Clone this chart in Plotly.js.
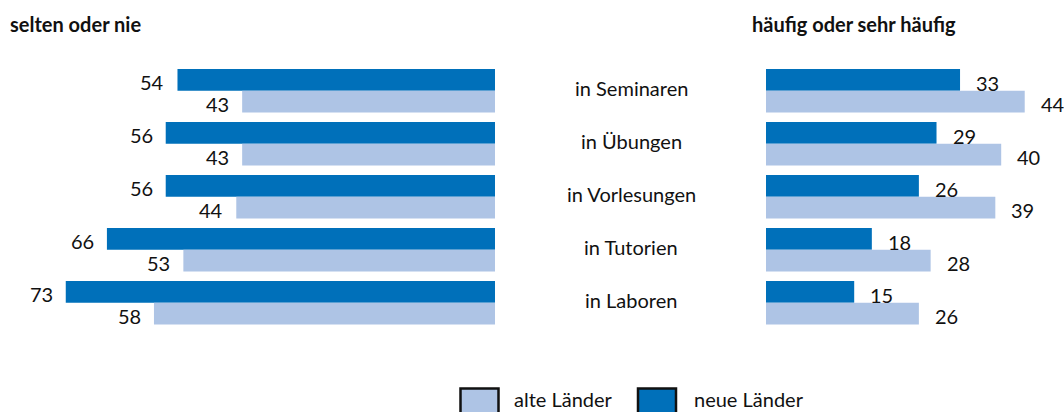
<!DOCTYPE html>
<html>
<head>
<meta charset="utf-8">
<script src="https://cdn.plot.ly/plotly-3.0.1.min.js"></script>
<style>html,body{margin:0;padding:0;background:#fff;}#chart{width:1064px;height:412px;}</style>
</head>
<body>
<div id="chart"></div>
<script>
const categories = ['in Seminaren', 'in Übungen', 'in Vorlesungen', 'in Tutorien', 'in Laboren'];
const seltenNeue = [54, 56, 56, 66, 73];
const seltenAlte = [43, 43, 44, 53, 58];
const haeufigNeue = [33, 29, 26, 18, 15];
const haeufigAlte = [44, 40, 39, 28, 26];
const seriesNames = ['alte Länder', 'neue Länder'];
const panelTitles = ['selten oder nie', 'häufig oder sehr häufig'];

const colAlte = '#AEC4E5';
const colNeue = '#0070BA';
const FONT = 'Lato, "Open Sans", sans-serif';
const TXT = '#111111';
const FS = 20;

function barTrace(x, name, color, xaxis) {
  return {
    type: 'bar', orientation: 'h', x: x, y: categories, name: name,
    marker: {color: color, line: {width: 0}}, xaxis: xaxis, yaxis: 'y',
    hoverinfo: 'x+y+name', showlegend: false
  };
}

const data = [
  barTrace(seltenNeue, seriesNames[1], colNeue, 'x'),
  barTrace(seltenAlte, seriesNames[0], colAlte, 'x'),
  barTrace(haeufigNeue, seriesNames[1], colNeue, 'x2'),
  barTrace(haeufigAlte, seriesNames[0], colAlte, 'x2')
];

const W = 1064, H = 412;
const PX = 5.88; // pixels per unit
const annotations = [];
const fnt = {family: FONT, size: FS, color: TXT};

categories.forEach((c, i) => {
  annotations.push({x: seltenNeue[i], xref: 'x', y: c, yref: 'y', text: String(seltenNeue[i]), showarrow: false, xanchor: 'right', yanchor: 'middle', xshift: -11, yshift: 9, font: fnt});
  annotations.push({x: seltenAlte[i], xref: 'x', y: c, yref: 'y', text: String(seltenAlte[i]), showarrow: false, xanchor: 'right', yanchor: 'middle', xshift: -11, yshift: -13, font: fnt});
  annotations.push({x: haeufigNeue[i], xref: 'x2', y: c, yref: 'y', text: String(haeufigNeue[i]), showarrow: false, xanchor: 'left', yanchor: 'middle', xshift: 14, yshift: 8, font: fnt});
  annotations.push({x: haeufigAlte[i], xref: 'x2', y: c, yref: 'y', text: String(haeufigAlte[i]), showarrow: false, xanchor: 'left', yanchor: 'middle', xshift: 14, yshift: -13, font: fnt});
  annotations.push({x: 631 / W, xref: 'paper', y: c, yref: 'y', text: c, showarrow: false, xanchor: 'center', yanchor: 'middle', yshift: 3, font: fnt});
});

annotations.push({x: 8 / W, xref: 'paper', y: (H - 24) / H, yref: 'paper', text: '<b>' + panelTitles[0] + '</b>', showarrow: false, xanchor: 'left', yanchor: 'middle', font: {family: FONT, size: 20, color: TXT}});
annotations.push({x: 750 / W, xref: 'paper', y: (H - 24) / H, yref: 'paper', text: '<b>' + panelTitles[1] + '</b>', showarrow: false, xanchor: 'left', yanchor: 'middle', font: {family: FONT, size: 20, color: TXT}});

// legend
annotations.push({x: 512 / W, xref: 'paper', y: (H - 399) / H, yref: 'paper', text: seriesNames[0], showarrow: false, xanchor: 'left', yanchor: 'middle', font: fnt});
annotations.push({x: 692 / W, xref: 'paper', y: (H - 399) / H, yref: 'paper', text: seriesNames[1], showarrow: false, xanchor: 'left', yanchor: 'middle', font: fnt});

const shapes = [
  {type: 'rect', xref: 'paper', yref: 'paper', x0: 460.5 / W, x1: 498.5 / W, y0: (H - 388.5) / H, y1: -0.03, fillcolor: colAlte, line: {color: '#111', width: 2.5}},
  {type: 'rect', xref: 'paper', yref: 'paper', x0: 638 / W, x1: 676 / W, y0: (H - 388.5) / H, y1: -0.03, fillcolor: colNeue, line: {color: '#111', width: 2.5}}
];

const ax = {showgrid: false, zeroline: false, showticklabels: false, showline: false, ticks: '', fixedrange: true};

const layout = {
  width: W, height: H, autosize: false,
  margin: {l: 0, r: 0, t: 0, b: 0, pad: 0},
  paper_bgcolor: '#ffffff', plot_bgcolor: '#ffffff',
  barmode: 'group', bargap: 0.182, bargroupgap: 0,
  showlegend: false,
  xaxis: Object.assign({}, ax, {domain: [0, 495 / W], range: [495 / PX, 0]}),
  xaxis2: Object.assign({}, ax, {domain: [766 / W, 1], range: [0, (W - 766) / PX]}),
  yaxis: Object.assign({}, ax, {type: 'category', categoryarray: categories, categoryorder: 'array', range: [(H - 90.7) / 53, -90.7 / 53]}),
  annotations: annotations,
  shapes: shapes,
  font: {family: FONT, size: FS, color: TXT}
};

Plotly.newPlot('chart', data, layout, {displayModeBar: false, staticPlot: true});
</script>
</body>
</html>
